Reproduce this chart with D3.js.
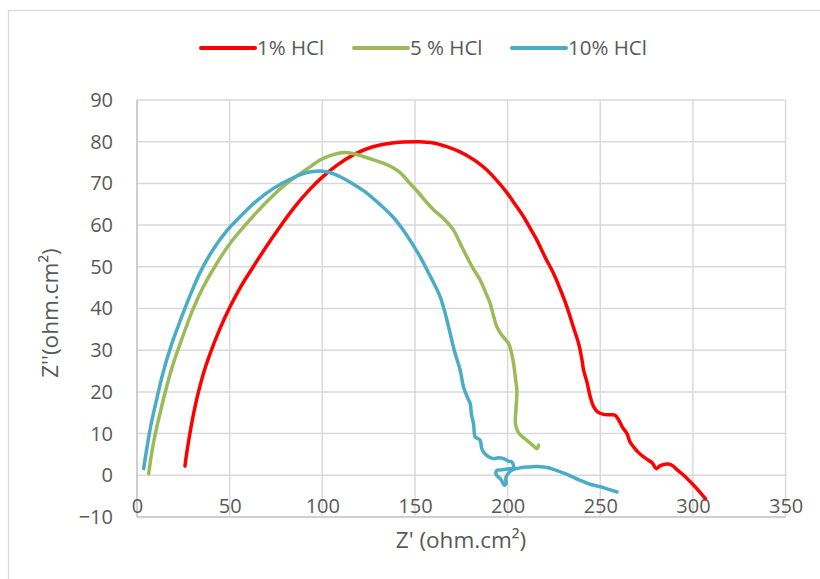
<!DOCTYPE html>
<html><head><meta charset="utf-8">
<script src="https://cdn.jsdelivr.net/npm/d3@7"></script>
<style>body{margin:0;background:#fff;} svg{display:block;}</style>
</head><body>
<svg id="c" width="820" height="579"></svg>
<script>
// ---- data ----
const seriesNames = ["1% HCl", "5 % HCl", "10% HCl"];
const seriesColors = ["#FF0000", "#9BBB59", "#4BACC6"];
const xTicks = [0, 50, 100, 150, 200, 250, 300, 350];
const yTicks = [-10, 0, 10, 20, 30, 40, 50, 60, 70, 80, 90];

const hcl1 = [[25.9,2.2],[26.4,4],[27.6,7.5],[29.5,12.4],[32.2,18.2],[35.7,24.2],[39.8,29.6],[44.6,35],[50.2,40.4],[56.5,45.6],[63,50.2],[70,55],[77,59.5],[85,64.3],[92.5,68.2],[100,71.5],[108,74.4],[117,76.9],[126,78.6],[135,79.5],[144,79.9],[152,80],[160,79.7],[167.2,78.8],[174,77.6],[179.8,76.2],[184.5,74.8],[188.8,73.2],[194,70.8],[199.6,67.8],[204,65],[208.6,62],[212.5,59],[215.8,56.4],[220,52.5],[224.8,48.4],[228.5,44.5],[232,40.4],[235.5,35.5],[238.3,31.6],[240,28],[241,25.2],[243,22],[244.6,18.8],[246.5,16.4],[248.5,15.2],[251.8,14.6],[255,14.5],[258,14.4],[260,13.2],[262,11.5],[264.4,10],[266,8],[268,6.8],[270.5,5.5],[273.4,4.4],[276,3.6],[278,3],[280.2,1.6],[282,2.2],[284.2,2.6],[286.5,2.7],[288.7,2.4],[291.5,1.3],[295,0],[300.4,-2.4],[303.5,-3.9],[306.7,-5.6]];

const hcl5 = [[6.3,0.4],[7.8,5],[9.9,10],[12.5,15],[15.5,20.4],[19,26],[23,31.2],[26.5,35.5],[30,39.6],[35.8,45.2],[43,50.8],[50.2,55.6],[59.2,60.4],[70,65.6],[80.8,70],[91.6,73.4],[98.8,75.6],[105,76.8],[111.6,77.4],[117,77.1],[122.4,76.4],[128,75.6],[133.2,74.8],[138,73.8],[142.2,72.5],[146.5,70.4],[151.5,68],[156,65.6],[160,63.7],[165.4,61.6],[170.8,58.8],[174.5,55.5],[178,52.4],[181.5,49.5],[185.2,46.8],[188,44],[190.6,41.2],[192.5,38],[194.2,35.6],[197,33.5],[200.5,31.6],[202,29.5],[203.2,26.8],[204.3,23],[205,20.4],[204.6,16.4],[204.2,12.4],[205.5,10.5],[207.5,9.4],[210.4,8.4],[213,7.4],[215.8,6.4],[216.7,7.2]];

const hcl10 = [[3.6,1.6],[5.5,7],[7.5,12],[10.5,18],[14,24.5],[18,30.5],[22,35.5],[25.5,39.6],[29,43.5],[34,48.6],[40.3,53.6],[48.4,58.6],[55.6,62],[64.6,65.8],[73.6,68.8],[82.6,71],[91.6,72.6],[98.8,73],[104,72.6],[109.6,71.6],[115,70.3],[122.4,68.2],[131,65],[138,62],[144,58.6],[149,55.2],[152.8,52.4],[158.4,47.6],[163.6,42.8],[166.5,38.5],[169,34],[171.5,29.5],[174.4,25.2],[176.2,21.2],[178.5,18.5],[179.8,17.2],[180.5,14.5],[181.6,12.4],[182.5,9.2],[184,8.8],[185.2,8.4],[186,6.5],[187,5.6],[189.5,4.5],[192.4,4],[195,4.2],[197.8,4],[200.5,3.4],[202.3,3.2],[203.2,1.8],[201.5,1.6],[199.6,1.5],[196.5,1.3],[194.2,1.2],[193.8,0.2],[195,-0.4],[196,-0.8],[197.2,-1.6],[198.2,-2.4],[199.2,-2],[199,-0.8],[199.6,0],[201,0.8],[203,1.4],[207,1.8],[212.2,2],[216,2.1],[219.4,2],[222,1.8],[224.8,1.4],[232,0.2],[239.2,-1.2],[245,-2.2],[252,-3],[259,-4]];

const seriesData = [hcl1, hcl5, hcl10];

// ---- layout ----
const svg = d3.select("#c");
const font = "'Open Sans', 'Liberation Sans', sans-serif";
const textColor = "#595959";
const x = d3.scaleLinear().domain([0, 350]).range([137, 785.6]);
const y = d3.scaleLinear().domain([-10, 90]).range([517, 100]);

// chart border
svg.append("rect").attr("x", 8.5).attr("y", 10.5).attr("width", 840).attr("height", 620)
  .attr("fill", "none").attr("stroke", "#d9d9d9").attr("stroke-width", 1.2);

// gridlines
const grid = svg.append("g");
grid.selectAll("line.h").data(yTicks).join("line")
  .attr("x1", x(0)).attr("x2", x(350))
  .attr("y1", d => y(d)).attr("y2", d => y(d))
  .attr("stroke", d => d === -10 ? "#bfbfbf" : "#d9d9d9").attr("stroke-width", 1.5);
grid.selectAll("line.v").data(xTicks).join("line")
  .attr("y1", y(90)).attr("y2", y(-10))
  .attr("x1", d => x(d)).attr("x2", d => x(d))
  .attr("stroke", d => d === 0 ? "#bfbfbf" : "#d9d9d9").attr("stroke-width", 1.5);

// axes labels via d3 axes
const yAxis = svg.append("g").attr("transform", `translate(${x(0)},0)`)
  .call(d3.axisLeft(y).tickValues(yTicks).tickSize(0).tickPadding(24));
yAxis.select(".domain").remove();
yAxis.selectAll("text").attr("font-family", font).attr("font-size", 20).attr("fill", textColor);

const xAxis = svg.append("g").attr("transform", `translate(0,${y(-10)})`)
  .call(d3.axisBottom(x).tickValues(xTicks).tickSize(0).tickPadding(0));
xAxis.select(".domain").remove();
xAxis.selectAll("text").attr("font-family", font).attr("font-size", 20).attr("fill", textColor)
  .attr("dy", "0.71em").attr("y", -18);

// series
const line = d3.line().x(d => x(d[0])).y(d => y(d[1])).curve(d3.curveCatmullRom.alpha(0.5));
svg.append("g").selectAll("path").data(seriesData).join("path")
  .attr("d", line).attr("fill", "none")
  .attr("stroke", (d, i) => seriesColors[i]).attr("stroke-width", 3.5)
  .attr("stroke-linejoin", "round").attr("stroke-linecap", "round");

// axis titles
svg.append("text").attr("x", 461).attr("y", 548).attr("text-anchor", "middle")
  .attr("font-family", font).attr("font-size", 22.5).attr("fill", textColor).text("Z' (ohm.cm²)");
svg.append("text").attr("transform", "translate(58,313) rotate(-90)").attr("text-anchor", "middle")
  .attr("font-family", font).attr("font-size", 22.5).attr("fill", textColor).text("Z''(ohm.cm²)");

// legend
const legX = [201, 354, 512];
const leg = svg.append("g").selectAll("g").data(seriesNames).join("g")
  .attr("transform", (d, i) => `translate(${legX[i]},48)`);
leg.append("line").attr("x1", 0).attr("x2", 54).attr("y1", 0).attr("y2", 0)
  .attr("stroke", (d, i) => seriesColors[i]).attr("stroke-width", 4).attr("stroke-linecap", "round");
leg.append("text").attr("x", 56).attr("y", 7).attr("font-family", font).attr("font-size", 20.5)
  .attr("fill", textColor).text(d => d);
</script>
</body></html>
